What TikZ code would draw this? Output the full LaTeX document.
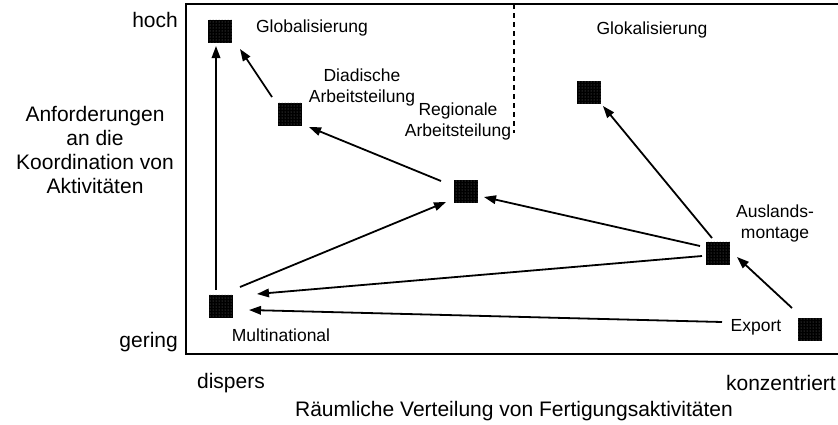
\documentclass[tikz,border=0pt]{standalone}
\usepackage{fontspec}
\setmainfont{Liberation Sans}
\usetikzlibrary{arrows.meta,patterns}

\begin{document}
\begin{tikzpicture}[x=1pt,y=-1pt,
  box/.style={fill=black, minimum width=24pt, minimum height=23pt, inner sep=0pt,
              postaction={pattern=dots, pattern color=black!55}},
  lbl/.style={font=\fontsize{17.5}{21}\selectfont, align=center, inner sep=0pt},
  axis/.style={font=\fontsize{21}{24}\selectfont, align=center, inner sep=0pt},
  arr/.style={line width=1.8pt, -{Triangle[length=12pt,width=8.5pt]}},
  frame/.style={line width=1.4pt},
  divider/.style={line width=1.3pt, dash pattern=on 5pt off 4pt}]
\useasboundingbox (0,0) rectangle (838,424);

% frame of the diagram (open on the right)
\draw[frame] (838,4) -- (186,4) -- (186,354) -- (838,354);
\draw[divider] (514,4) -- (514,133);

% strategy positions
\node[box] (glob)  at (220,31)  {};
\node[box] (dia)   at (290,114) {};
\node[box] (reg)   at (466,191) {};
\node[box] (glok)  at (589,92)  {};
\node[box] (aus)   at (718,253) {};
\node[box] (exp)   at (810,329) {};
\node[box] (multi) at (221,306) {};

% their labels
\node[lbl] (globL)  at (312,28)  {Globalisierung};
\node[lbl] (diaL)   at (362,87)  {Diadische\\Arbeitsteilung};
\node[lbl] (regL)   at (458,121) {Regionale\\Arbeitsteilung};
\node[lbl] (glokL)  at (652,30)  {Glokalisierung};
\node[lbl] (ausL)   at (775,223) {Auslands-\\montage};
\node[lbl] (expL)   at (756,327) {Export};
\node[lbl] (multiL) at (281,335) {Multinational};

% axis labels
\node[axis, anchor=east] (hoch)   at (178,20)  {hoch};
\node[axis, anchor=east] (gering) at (178,342) {gering};
\node[axis] (yaxis) at (95,150) {Anforderungen\\an die\\Koordination von\\Aktivitäten};
\node[axis] (dispers) at (231,383) {dispers};
\node[axis, anchor=east] (konz) at (836,383) {konzentriert};
\node[axis] (xaxis)   at (514,411) {Räumliche Verteilung von Fertigungsaktivitäten};

% development paths
\draw[arr] ([shift={(-5,-16)}]multi.center) -- ([shift={(-4,15)}]glob.center);
\draw[arr] ([shift={(-18,-17)}]dia.center)  -- ([shift={(20,18)}]glob.center);
\draw[arr] ([shift={(-25,-10)}]reg.center)  -- ([shift={(19,13)}]dia.center);
\draw[arr] ([shift={(19,-19)}]multi.center) -- ([shift={(-20,11)}]reg.center);
\draw[arr] ([shift={(-18,-7)}]aus.center)   -- ([shift={(18,6)}]reg.center);
\draw[arr] ([shift={(-6,-15)}]aus.center)   -- ([shift={(14,14)}]glok.center);
\draw[arr] ([shift={(-16,3)}]aus.center)    -- ([shift={(36,-12)}]multi.center);
\draw[arr] ([shift={(-88,-7)}]exp.center)   -- ([shift={(28,4)}]multi.center);
\draw[arr] ([shift={(-18,-21)}]exp.center)  -- ([shift={(19,4)}]aus.center);
\end{tikzpicture}
\end{document}
